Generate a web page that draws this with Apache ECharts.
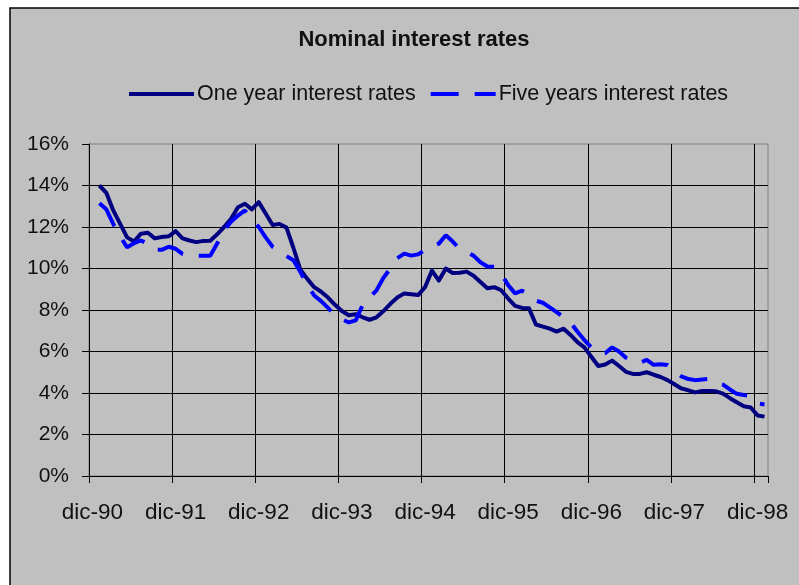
<!DOCTYPE html>
<html>
<head>
<meta charset="utf-8">
<title>Nominal interest rates</title>
<script src="https://cdn.jsdelivr.net/npm/echarts@6/dist/echarts.min.js"></script>
<style>
  html, body { margin: 0; padding: 0; background: #ffffff; }
  #chart { width: 799px; height: 585px; }
</style>
</head>
<body>
<div id="chart"></div>
<script>
// Monthly categories, dic-90 .. ene-99 (Spanish month abbreviations)
const monthNames = ['ene', 'feb', 'mar', 'abr', 'may', 'jun', 'jul', 'ago', 'sep', 'oct', 'nov', 'dic'];
const firstYear = 1990;
const firstMonth = 11;          // diciembre
const monthCount = 98;

// Y axis ticks (percent)
const yTicks = { min: 0, max: 16, step: 2 };

// One year interest rates (%), one value per month
const oneYear = [
  null, 14.0, 13.65, 12.8, 12.15, 11.5, 11.3, 11.68, 11.72, 11.45, 11.52, 11.55,
  11.8, 11.45, 11.35, 11.27, 11.33, 11.34, 11.65, 12.0, 12.4, 12.95, 13.12, 12.85,
  13.2, 12.65, 12.1, 12.15, 11.97, 11.0, 9.95, 9.5, 9.1, 8.88, 8.6, 8.25,
  7.95, 7.75, 7.8, 7.65, 7.53, 7.65, 7.95, 8.3, 8.6, 8.8, 8.76, 8.72,
  9.1, 9.9, 9.42, 10.0, 9.78, 9.8, 9.85, 9.65, 9.35, 9.05, 9.1, 8.95,
  8.55, 8.2, 8.1, 8.08, 7.3, 7.2, 7.1, 6.96, 7.1, 6.8, 6.45, 6.2,
  5.75, 5.3, 5.37, 5.56, 5.3, 5.02, 4.92, 4.92, 5.0, 4.88, 4.77, 4.62,
  4.42, 4.22, 4.13, 4.03, 4.1, 4.1, 4.08, 3.97, 3.75, 3.55, 3.36, 3.3,
  2.92, 2.86
];

// Five years interest rates (%), one value per month
const fiveYears = [
  null, 13.15, 12.85, 12.15, 11.55, 11.02, 11.22, 11.35, 11.2, 10.9, 10.9, 11.05,
  10.95, 10.7, 10.6, 10.62, 10.62, 10.62, 11.2, 11.85, 12.25, 12.55, 12.8, 12.35,
  12.0, 11.5, 11.05, 10.85, 10.6, 10.4, 9.84, 9.2, 8.7, 8.43, 8.1, 7.75,
  7.55, 7.4, 7.5, 8.25, 8.6, 8.95, 9.55, 10.0, 10.5, 10.72, 10.62, 10.68,
  10.9, 11.05, 11.2, 11.6, 11.3, 10.95, 10.8, 10.62, 10.3, 10.1, 10.09, 9.75,
  9.2, 8.8, 8.93, 8.75, 8.45, 8.35, 8.13, 7.9, 7.65, 7.4, 6.95, 6.55,
  6.2, 5.95, 5.92, 6.2, 6.0, 5.7, 5.55, 5.45, 5.6, 5.36, 5.38, 5.35,
  5.05, 4.8, 4.67, 4.62, 4.65, 4.68, 4.5, 4.4, 4.17, 3.96, 3.9, 3.85,
  3.5, 3.45
];

const categories = [];
for (let i = 0; i < monthCount; i++) {
  const m = (firstMonth + i) % 12;
  const y = firstYear + Math.floor((firstMonth + i) / 12);
  categories.push(monthNames[m] + '-' + String(y % 100).padStart(2, '0'));
}

const FONT = "'Liberation Sans', Arial, Helvetica, sans-serif";
const TEXT = '#111111';

const chart = echarts.init(document.getElementById('chart'), null, { renderer: 'canvas' });

chart.setOption({
  animation: false,
  backgroundColor: '#ffffff',
  graphic: [{
    type: 'rect',
    z: -10,
    silent: true,
    shape: { x: 10, y: 8, width: 820, height: 620 },
    style: { fill: '#c0c0c0', stroke: '#000000', lineWidth: 1.5 }
  }],
  title: {
    text: 'Nominal interest rates',
    left: 409,
    textAlign: 'center',
    top: 24,
    textStyle: { fontFamily: FONT, fontSize: 22, fontWeight: 'bold', color: TEXT }
  },
  legend: {
    left: 122,
    top: 78,
    itemWidth: 65,
    itemHeight: 20,
    itemGap: 13,
    itemStyle: { opacity: 0 },
    lineStyle: { width: 4 },
    textStyle: { fontFamily: FONT, fontSize: 21.5, color: TEXT, padding: [0, 0, 0, -2] },
    data: ['One year interest rates', 'Five years interest rates']
  },
  grid: {
    left: 89,
    top: 144,
    width: 679,
    height: 332,
    show: true,
    borderColor: '#808080',
    borderWidth: 1,
    backgroundColor: 'transparent'
  },
  xAxis: {
    type: 'category',
    data: categories,
    boundaryGap: true,
    axisLine: { show: true, lineStyle: { color: '#000', width: 1 } },
    axisTick: { show: true, interval: 11, length: 7, lineStyle: { color: '#000' } },
    axisLabel: {
      interval: 11,
      margin: 25,
      fontFamily: FONT,
      fontSize: 22.5,
      color: TEXT
    },
    splitLine: {
      show: true,
      interval: 11,
      showMinLine: false,
      showMaxLine: false,
      lineStyle: { color: '#000', width: 1 }
    }
  },
  yAxis: {
    type: 'value',
    min: yTicks.min,
    max: yTicks.max,
    interval: yTicks.step,
    axisLine: { show: true, lineStyle: { color: '#000', width: 1 } },
    axisTick: { show: true, length: 7, lineStyle: { color: '#000' } },
    axisLabel: {
      margin: 20,
      formatter: '{value}%',
      fontFamily: FONT,
      fontSize: 21,
      color: TEXT
    },
    splitLine: {
      show: true,
      showMaxLine: false,
      lineStyle: { color: '#000', width: 1 }
    }
  },
  series: [
    {
      name: 'One year interest rates',
      type: 'line',
      data: oneYear,
      symbol: 'none',
      showSymbol: false,
      color: '#000080',
      lineStyle: { color: '#000080', width: 4, join: 'round' }
    },
    {
      name: 'Five years interest rates',
      type: 'line',
      data: fiveYears,
      symbol: 'none',
      showSymbol: false,
      color: '#0000ff',
      lineStyle: { color: '#0000ff', width: 4, type: [28, 16], cap: 'butt' }
    }
  ]
});
</script>
</body>
</html>
